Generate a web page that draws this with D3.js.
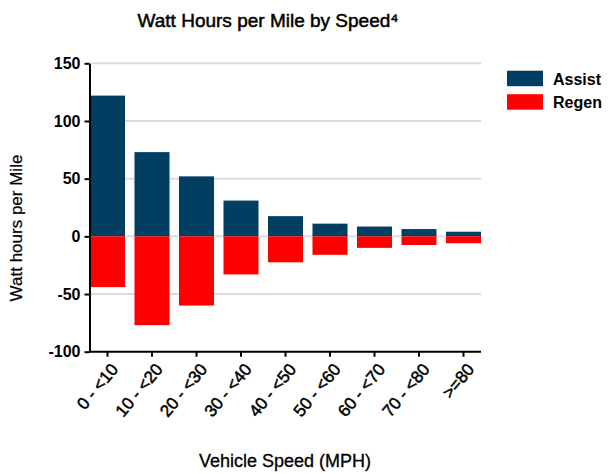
<!DOCTYPE html>
<html><head><meta charset="utf-8">
<script src="https://cdn.jsdelivr.net/npm/d3@7/dist/d3.min.js"></script>
<style>body{margin:0;background:#fff;} text{font-family:"Liberation Sans",Arial,sans-serif;}</style>
</head><body><svg id="c" width="608" height="474"></svg>
<script>
const categories = ["0 - <10","10 - <20","20 - <30","30 - <40","40 - <50","50 - <60","60 - <70","70 - <80",">=80"];
const assist = [122, 73, 52, 31, 17.5, 11, 8.5, 6.3, 4];
const regen = [-44, -77, -60, -33, -22.5, -16, -10, -7.5, -6];
const yTicks = [-100, -50, 0, 50, 100, 150];
const seriesNames = ["Assist", "Regen"];
const colors = ["#003F62", "#FF0000"];

const svg = d3.select("#c");
const x = d3.scaleBand().domain(categories).range([90, 481]).paddingInner(0.213).paddingOuter(0);
const y = d3.scaleLinear().domain([-100, 150]).range([351.7, 63.3]);

// gridlines
svg.append("g").selectAll("line").data(yTicks.filter(d => d > -100)).join("line")
  .attr("x1", 90).attr("x2", 481).attr("y1", d => y(d)).attr("y2", d => y(d))
  .attr("stroke", "#dcdcdc").attr("stroke-width", 2);

// bars
svg.append("g").selectAll("rect").data(assist).join("rect")
  .attr("x", (d, i) => x(categories[i])).attr("width", x.bandwidth())
  .attr("y", d => y(d)).attr("height", d => y(0) - y(d)).attr("fill", colors[0]);
svg.append("g").selectAll("rect").data(regen).join("rect")
  .attr("x", (d, i) => x(categories[i])).attr("width", x.bandwidth())
  .attr("y", y(0)).attr("height", d => y(d) - y(0)).attr("fill", colors[1]);

// y axis
const ya = svg.append("g").attr("transform", "translate(89.5,0)")
  .call(d3.axisLeft(y).tickValues(yTicks).tickSize(5).tickPadding(4).tickSizeOuter(0));
ya.select(".domain").attr("stroke", "#000").attr("stroke-width", 2);
ya.selectAll(".tick line").attr("stroke", "#000").attr("stroke-width", 2);
ya.selectAll(".tick text").attr("font-size", 16).attr("font-weight", "bold").attr("fill", "#000")
  .attr("font-family", "Liberation Sans, Arial, sans-serif").text(d => d < 0 ? "-" + Math.abs(d) : d);

// x axis
const xa = svg.append("g").attr("transform", "translate(0,351.7)")
  .call(d3.axisBottom(x).tickSize(5).tickSizeOuter(0).tickFormat(""));
xa.select(".domain").attr("stroke", "#000").attr("stroke-width", 2).attr("d", "M89.5,0H481");
xa.selectAll(".tick line").attr("stroke", "#000").attr("stroke-width", 2);
svg.append("g").selectAll("text").data(categories).join("text")
  .attr("transform", d => `translate(${x(d) + x.bandwidth() / 2 + 7},${366}) rotate(-50)`)
  .attr("text-anchor", "end").attr("dy", "0.35em")
  .attr("font-size", 17).attr("fill", "#000").attr("stroke", "#000").attr("stroke-width", 0.5).text(d => d);

// title
svg.append("text").attr("x", 268).attr("y", 27).attr("text-anchor", "middle")
  .attr("font-size", 19).attr("stroke", "#000").attr("stroke-width", 0.5).text("Watt Hours per Mile by Speed⁴");

// axis titles
svg.append("text").attr("transform", "translate(22,228) rotate(-90)").attr("text-anchor", "middle")
  .attr("font-size", 17).attr("stroke", "#000").attr("stroke-width", 0.2).text("Watt hours per Mile");
svg.append("text").attr("x", 285).attr("y", 467).attr("text-anchor", "middle")
  .attr("font-size", 18).attr("stroke", "#000").attr("stroke-width", 0.3).text("Vehicle Speed (MPH)");

// legend
const lg = svg.append("g").selectAll("g").data(seriesNames).join("g")
  .attr("transform", (d, i) => `translate(507,${70.7 + i * 23.5})`);
lg.append("rect").attr("width", 36).attr("height", 15.5).attr("fill", (d, i) => colors[i]);
lg.append("text").attr("x", 46).attr("y", 14).attr("font-size", 16).attr("font-weight", "bold").text(d => d);
</script></body></html>
